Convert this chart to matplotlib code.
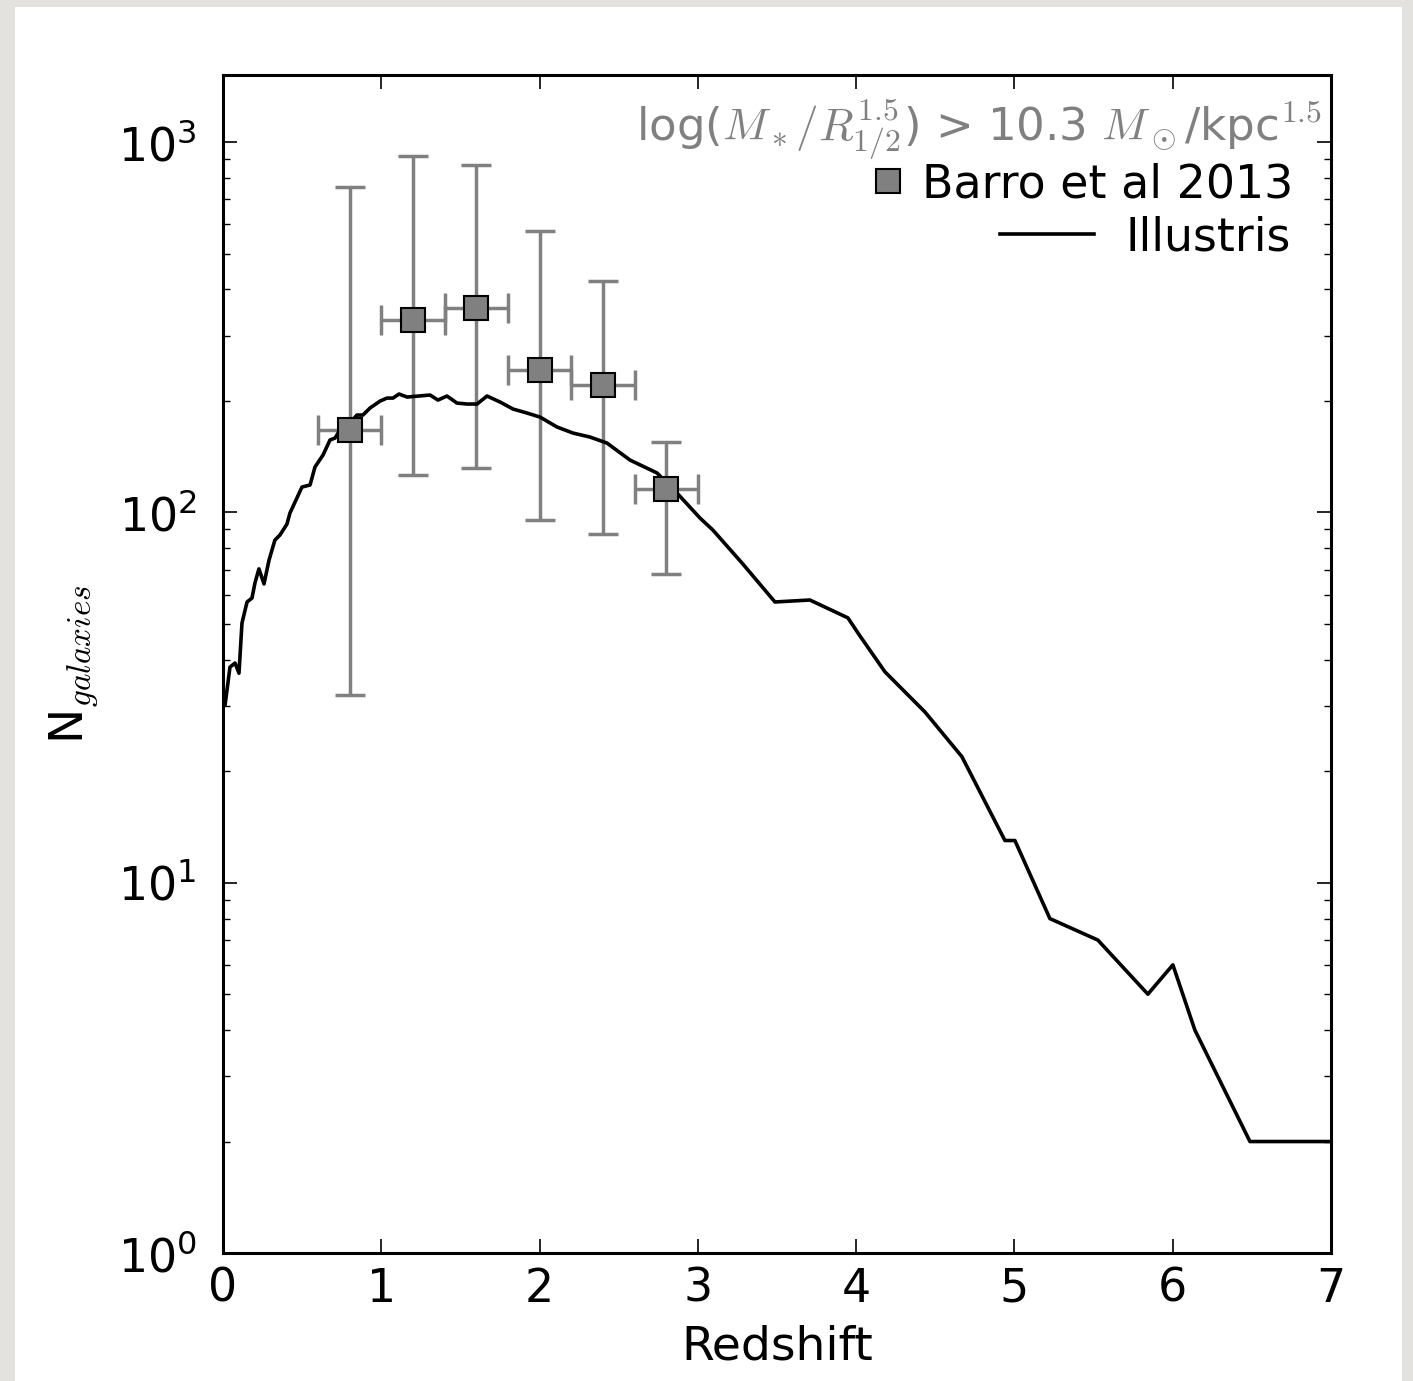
import numpy as np
import matplotlib
matplotlib.use('Agg')
from matplotlib import pyplot as plt
from matplotlib.patches import Rectangle
from matplotlib.lines import Line2D

plt.rcParams['mathtext.fontset'] = 'cm'

# Barro et al 2013 points
barro_z = [0.8, 1.2, 1.6, 2.0, 2.4, 2.8]
barro_n = [167, 331, 356, 242, 221, 116]
barro_lo = [32.1, 126, 132, 95.4, 87.4, 68.2]
barro_hi = [756, 917, 867, 575, 422, 155]
barro_zerr = [0.2, 0.2, 0.2, 0.2, 0.2, 0.2]

# Illustris curve
ill_z = [0.013, 0.044, 0.076, 0.101, 0.120, 0.152, 0.183, 0.202, 0.227, 0.259,
         0.291, 0.328, 0.360, 0.404, 0.423, 0.467, 0.499, 0.550, 0.581, 0.632,
         0.676, 0.708, 0.739, 0.802, 0.846, 0.884, 0.929, 0.992, 1.036, 1.074,
         1.112, 1.163, 1.308, 1.358, 1.415, 1.478, 1.542, 1.605, 1.668, 1.750,
         1.832, 1.921, 2.003, 2.110, 2.211, 2.318, 2.426, 2.571, 2.742, 2.868,
         3.013, 3.095, 3.279, 3.487, 3.708, 3.948, 4.024, 4.182, 4.435, 4.668,
         4.940, 5.003, 5.224, 5.527, 5.843, 6.001, 6.140, 6.488, 7.0]
ill_n = [30.2, 38.2, 39.2, 36.8, 50.3, 57.3, 58.7, 64.5, 70.4, 64.1,
         74.4, 84.2, 86.9, 93.0, 99.6, 109.4, 117.1, 118.6, 132.6, 142.9,
         156.9, 158.8, 167.0, 174.3, 183.2, 183.2, 191.4, 199.8, 203.6, 203.6,
         208.8, 204.9, 207.5, 201.1, 206.2, 197.4, 196.2, 196.2, 206.2, 198.7,
         190.2, 185.5, 180.9, 170.1, 163.8, 159.8, 153.9, 138.5, 127.8, 112.8,
         96.6, 89.6, 73.0, 57.3, 58.0, 51.9, 46.4, 37.1, 28.9, 21.9,
         13.0, 13.0, 8.0, 7.0, 5.0, 6.0, 4.0, 2.0, 2.0]

fig = plt.figure(figsize=(14.13, 13.81), dpi=100, facecolor='#e3e2de')
fig.patches.append(Rectangle((15 / 1413, 0), 1387 / 1413, 1374 / 1381,
                             transform=fig.transFigure, facecolor='white',
                             edgecolor='none', zorder=-10))

ax = fig.add_axes([223 / 1413, 128 / 1381, 1108 / 1413, 1178 / 1381])
ax.set_zorder(5)

yerr = [np.array(barro_n) - np.array(barro_lo), np.array(barro_hi) - np.array(barro_n)]
ax.errorbar(barro_z, barro_n, xerr=barro_zerr, yerr=yerr, fmt='none',
            ecolor='gray', elinewidth=2.5, capsize=11, capthick=2.5, zorder=2)
ax.plot(ill_z, ill_n, color='black', lw=2.6, zorder=3)
ax.plot(barro_z, barro_n, 's', color='gray', mec='black', mew=1.5, ms=17, zorder=4)

ax.set_yscale('log')
ax.set_xlim(0, 7)
ax.set_ylim(1, 1518)
ax.set_xticks([0, 1, 2, 3, 4, 5, 6, 7])

for s in ax.spines.values():
    s.set_linewidth(2.2)
ax.tick_params(which='both', direction='in', top=True, right=True, labelsize=33)
ax.tick_params(which='major', length=10, width=1.2, pad=10)
ax.tick_params(which='minor', length=5, width=1.0)
ax.tick_params(axis='y', which='major', pad=19)

ax.set_xlabel('Redshift', fontsize=34, labelpad=9)
ax.set_ylabel('N$_{galaxies}$', fontsize=34, labelpad=12)

ax.text(0.992, 0.944, r'log($M_*/R_{1/2}^{1.5}$) > 10.3 $M_\odot$/kpc$^{1.5}$',
        transform=ax.transAxes, ha='right', va='baseline', fontsize=32.5, color='gray')

h1 = Line2D([], [], ls='none', marker='s', color='gray', mec='black', mew=1.5, ms=17)
leg1 = ax.legend([h1], ['Barro et al 2013'], loc='upper right', bbox_to_anchor=(0.966, 0.926),
                 frameon=False, fontsize=33, handlelength=0.5, handletextpad=0.5,
                 borderaxespad=0, borderpad=0, numpoints=1)
ax.add_artist(leg1)
h2 = Line2D([], [], color='black', lw=2.6)
ax.legend([h2], ['Illustris'], loc='upper right', bbox_to_anchor=(0.964, 0.881),
          frameon=False, fontsize=33, handlelength=2.05, handletextpad=0.7,
          borderaxespad=0, borderpad=0)

fig.savefig('out.png', dpi=100, facecolor=fig.get_facecolor())
